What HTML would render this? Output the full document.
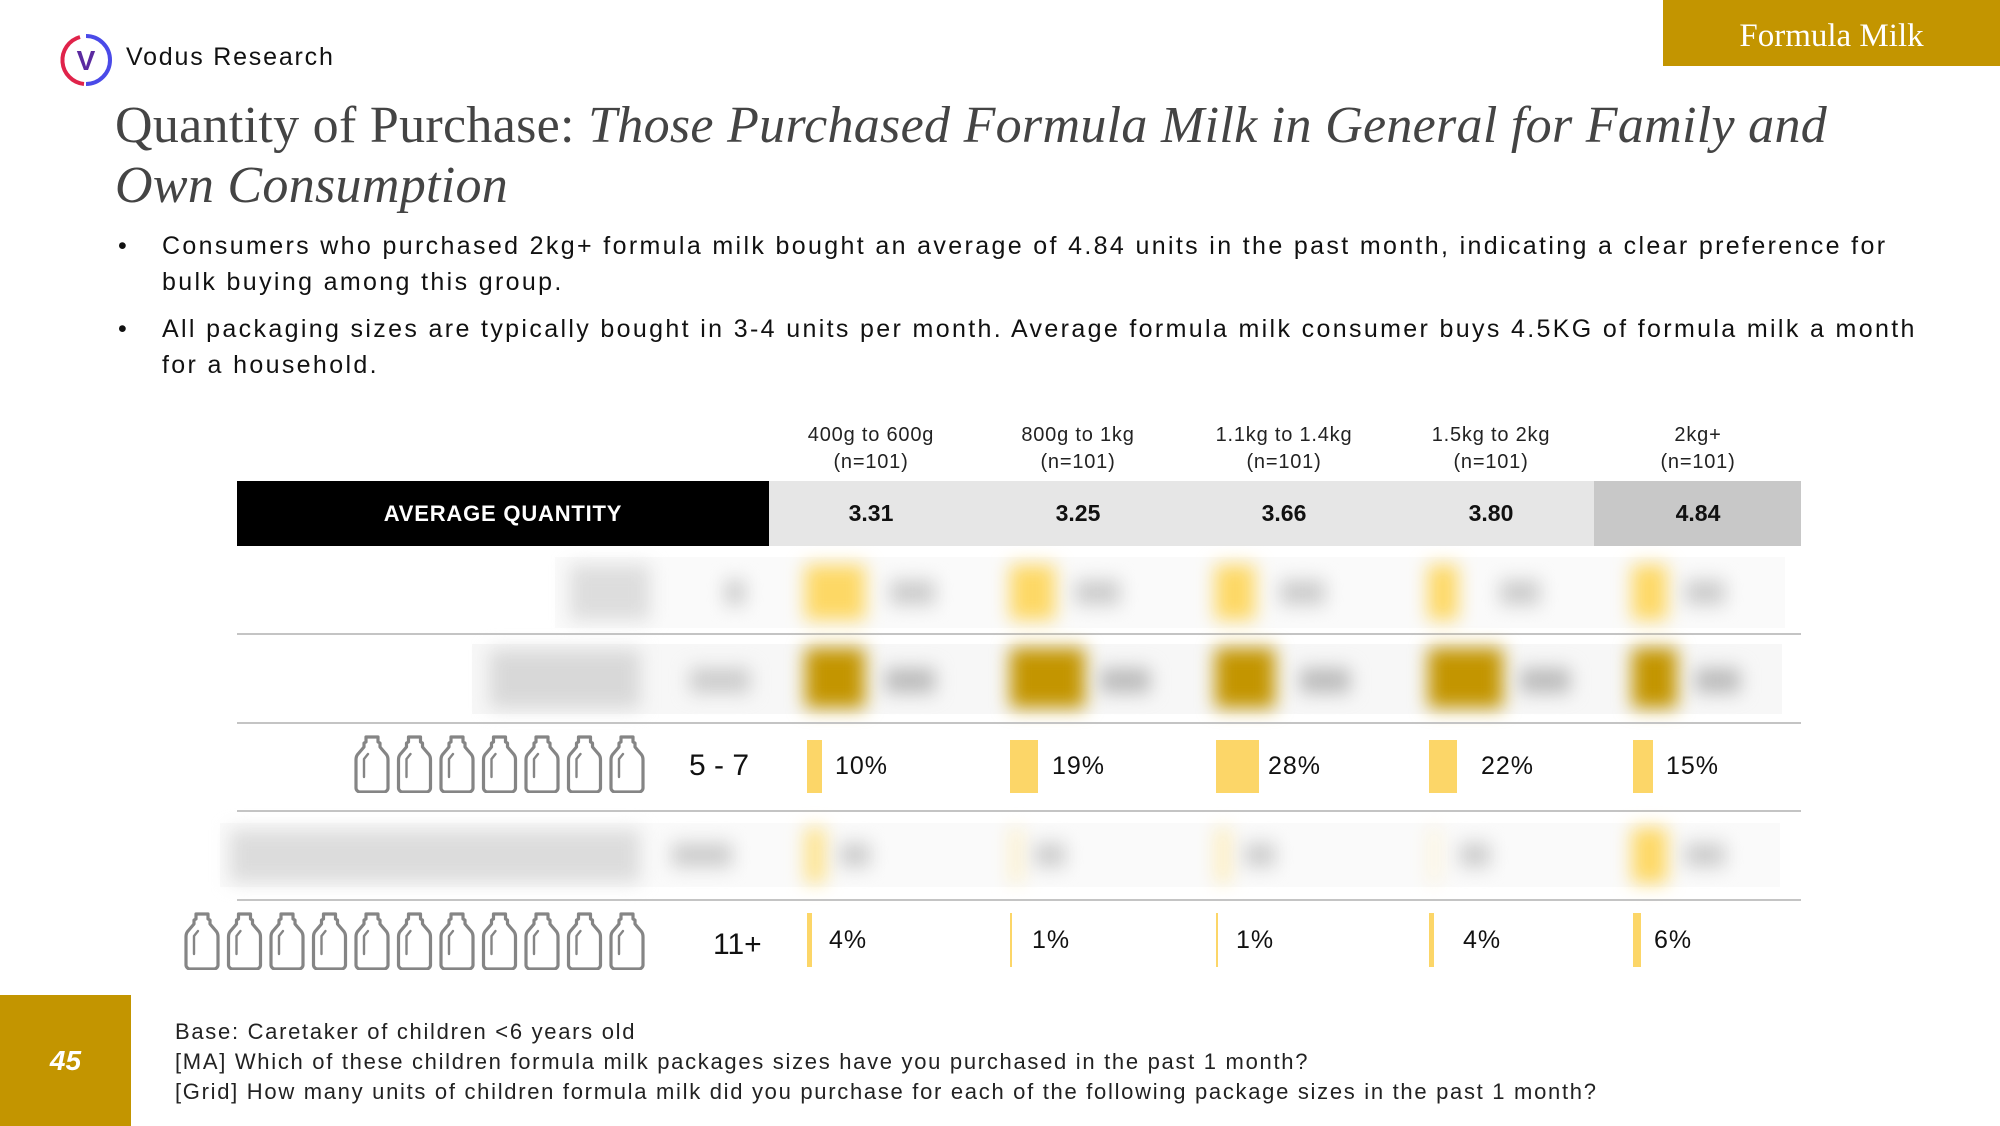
<!DOCTYPE html>
<html><head><meta charset="utf-8">
<style>
body{margin:0;width:2000px;height:1126px;position:relative;background:#fff;overflow:hidden;font-family:"Liberation Sans",sans-serif;color:#111}
.a{position:absolute}
.hdr{left:1663px;top:0;width:337px;height:66px;background:#c39500;color:#fff;font-family:"Liberation Serif",serif;font-size:33px;text-align:center;line-height:72px}
.title{left:115px;top:96px;font-family:"Liberation Serif",serif;font-size:52px;color:#444;line-height:60px;letter-spacing:0.3px}
.bul{left:162px;font-size:25px;line-height:36px;width:1810px;color:#111;letter-spacing:2.35px}
.bul:before{content:"•";position:absolute;left:-44px}
.ch{width:200px;text-align:center;font-size:20px;line-height:27px;color:#222;top:422px;letter-spacing:0.8px}
.sep{left:237px;width:1564px;height:2px;background:#c4c4c4}
.cell{top:481px;height:65px;line-height:65px;text-align:center;font-weight:bold;font-size:23px}
.bar{background:#fcd668}
.pct{font-size:25px;color:#111;letter-spacing:1px}
.blur{filter:blur(9px)}
.foot{left:175px;font-size:22px;color:#222;line-height:30px;letter-spacing:1.7px}
</style></head><body>
<svg width="0" height="0" style="position:absolute"><defs>
<symbol id="bt" viewBox="0 0 36 58"><path d="M12 2h12v5l2 1v4l6 7c2 2 2 4 2 6v28c0 2-2 4-4 4H6c-2 0-4-2-4-4V25c0-2 0-4 2-6l6-7V8l2-1z" fill="none" stroke="#858585" stroke-width="3.2" stroke-linejoin="round"/><path d="M10 42V24l4-5" fill="none" stroke="#858585" stroke-width="2.4" stroke-linecap="round"/></symbol>
</defs></svg>

<div class="a hdr">Formula Milk</div>
<svg class="a" style="left:58px;top:32px" width="56" height="56" viewBox="0 0 56 56">
<path d="M28 4a24 24 0 0 1 0 48" fill="none" stroke="#4a4ae8" stroke-width="4"/>
<path d="M22 5A24 24 0 0 0 26 52" fill="none" stroke="#e0234a" stroke-width="4"/>
<text x="28" y="38" text-anchor="middle" font-family="Liberation Sans" font-weight="bold" font-size="28" fill="#5b2aa0">V</text></svg>
<div class="a" style="left:126px;top:43px;font-size:25px;color:#111;letter-spacing:1.8px">Vodus Research</div>

<div class="a title">Quantity of Purchase: <i>Those Purchased Formula Milk in General for Family and<br>Own Consumption</i></div>
<div class="a bul" style="top:228px">Consumers who purchased 2kg+ formula milk bought an average of 4.84 units in the past month, indicating a clear preference for<br>bulk buying among this group.</div>
<div class="a bul" style="top:311px">All packaging sizes are typically bought in 3-4 units per month. Average formula milk consumer buys 4.5KG of formula milk a month<br>for a household.</div>

<div class="a ch" style="left:771px">400g to 600g<br>(n=101)</div>
<div class="a ch" style="left:978px">800g to 1kg<br>(n=101)</div>
<div class="a ch" style="left:1184px">1.1kg to 1.4kg<br>(n=101)</div>
<div class="a ch" style="left:1391px">1.5kg to 2kg<br>(n=101)</div>
<div class="a ch" style="left:1598px">2kg+<br>(n=101)</div>

<div class="a cell" style="left:237px;width:532px;background:#000;color:#fff;font-size:22px;letter-spacing:0.8px">AVERAGE QUANTITY</div>
<div class="a" style="left:769px;top:481px;width:825px;height:65px;background:#e6e6e6"></div>
<div class="a" style="left:1594px;top:481px;width:207px;height:65px;background:#c8c8c8"></div>
<div class="a cell" style="left:771px;width:200px">3.31</div>
<div class="a cell" style="left:978px;width:200px">3.25</div>
<div class="a cell" style="left:1184px;width:200px">3.66</div>
<div class="a cell" style="left:1391px;width:200px">3.80</div>
<div class="a cell" style="left:1598px;width:200px">4.84</div>

<div class="a" style="left:555px;top:557px;width:1230px;height:71px;background:#fafafa"></div>
<div class="a blur" style="left:570px;top:565px;width:80px;height:55px;background:#ddd"></div>
<div class="a blur" style="left:725px;top:580px;width:20px;height:25px;background:#ccc"></div>
<div class="a blur" style="left:805px;top:565px;width:60px;height:55px;background:#fdd865"></div>
<div class="a blur" style="left:1010px;top:565px;width:45px;height:55px;background:#fdd865"></div>
<div class="a blur" style="left:1215px;top:565px;width:40px;height:55px;background:#fdd865"></div>
<div class="a blur" style="left:1428px;top:565px;width:30px;height:55px;background:#fdd865"></div>
<div class="a blur" style="left:1632px;top:565px;width:35px;height:55px;background:#fdd865"></div>
<div class="a blur" style="left:890px;top:580px;width:45px;height:25px;background:#ccc"></div>
<div class="a blur" style="left:1075px;top:580px;width:45px;height:25px;background:#ccc"></div>
<div class="a blur" style="left:1280px;top:580px;width:45px;height:25px;background:#ccc"></div>
<div class="a blur" style="left:1500px;top:580px;width:40px;height:25px;background:#ccc"></div>
<div class="a blur" style="left:1685px;top:580px;width:40px;height:25px;background:#ccc"></div>
<div class="a sep" style="top:633px"></div>

<div class="a" style="left:472px;top:644px;width:1310px;height:70px;background:#f7f7f7"></div>
<div class="a blur" style="left:490px;top:650px;width:150px;height:58px;background:#d8d8d8"></div>
<div class="a blur" style="left:690px;top:668px;width:60px;height:25px;background:#ccc"></div>
<div class="a blur" style="left:805px;top:648px;width:60px;height:60px;background:#c39500"></div>
<div class="a blur" style="left:1010px;top:648px;width:75px;height:60px;background:#c39500"></div>
<div class="a blur" style="left:1215px;top:648px;width:60px;height:60px;background:#c39500"></div>
<div class="a blur" style="left:1428px;top:648px;width:75px;height:60px;background:#c39500"></div>
<div class="a blur" style="left:1632px;top:648px;width:45px;height:60px;background:#c39500"></div>
<div class="a blur" style="left:885px;top:668px;width:50px;height:25px;background:#bbb"></div>
<div class="a blur" style="left:1100px;top:668px;width:50px;height:25px;background:#bbb"></div>
<div class="a blur" style="left:1300px;top:668px;width:50px;height:25px;background:#bbb"></div>
<div class="a blur" style="left:1520px;top:668px;width:50px;height:25px;background:#bbb"></div>
<div class="a blur" style="left:1695px;top:668px;width:45px;height:25px;background:#bbb"></div>
<div class="a sep" style="top:722px"></div>

<svg class="a" style="left:352px;top:735px" width="295" height="60">
<use href="#bt" x="2" y="0" width="36" height="58"/><use href="#bt" x="44.5" y="0" width="36" height="58"/><use href="#bt" x="87" y="0" width="36" height="58"/><use href="#bt" x="129.5" y="0" width="36" height="58"/><use href="#bt" x="172" y="0" width="36" height="58"/><use href="#bt" x="214.5" y="0" width="36" height="58"/><use href="#bt" x="257" y="0" width="36" height="58"/></svg>
<div class="a" style="left:689px;top:749px;font-size:30px">5 - 7</div>
<div class="a bar" style="left:807px;top:740px;width:15px;height:53px"></div>
<div class="a bar" style="left:1010px;top:740px;width:28px;height:53px"></div>
<div class="a bar" style="left:1216px;top:740px;width:43px;height:53px"></div>
<div class="a bar" style="left:1429px;top:740px;width:28px;height:53px"></div>
<div class="a bar" style="left:1633px;top:740px;width:20px;height:53px"></div>
<div class="a pct" style="left:835px;top:752px">10%</div>
<div class="a pct" style="left:1052px;top:752px">19%</div>
<div class="a pct" style="left:1268px;top:752px">28%</div>
<div class="a pct" style="left:1481px;top:752px">22%</div>
<div class="a pct" style="left:1666px;top:752px">15%</div>
<div class="a sep" style="top:810px"></div>

<div class="a" style="left:220px;top:823px;width:1560px;height:64px;background:#fafafa"></div>
<div class="a blur" style="left:230px;top:830px;width:410px;height:52px;background:#dcdcdc"></div>
<div class="a blur" style="left:672px;top:843px;width:60px;height:24px;background:#ccc"></div>
<div class="a blur" style="left:805px;top:828px;width:20px;height:55px;background:#fde28a"></div>
<div class="a blur" style="left:1010px;top:828px;width:12px;height:55px;background:#fdf0c8"></div>
<div class="a blur" style="left:1216px;top:828px;width:14px;height:55px;background:#fdecb8"></div>
<div class="a blur" style="left:1429px;top:828px;width:10px;height:55px;background:#fdf3d8"></div>
<div class="a blur" style="left:1632px;top:828px;width:35px;height:55px;background:#fdd865"></div>
<div class="a blur" style="left:840px;top:843px;width:30px;height:24px;background:#ccc"></div>
<div class="a blur" style="left:1035px;top:843px;width:30px;height:24px;background:#ccc"></div>
<div class="a blur" style="left:1245px;top:843px;width:30px;height:24px;background:#ccc"></div>
<div class="a blur" style="left:1460px;top:843px;width:30px;height:24px;background:#ccc"></div>
<div class="a blur" style="left:1685px;top:843px;width:40px;height:24px;background:#ccc"></div>
<div class="a sep" style="top:899px"></div>

<svg class="a" style="left:182px;top:912px" width="465" height="60">
<use href="#bt" x="2" y="0" width="36" height="58"/><use href="#bt" x="44.5" y="0" width="36" height="58"/><use href="#bt" x="87" y="0" width="36" height="58"/><use href="#bt" x="129.5" y="0" width="36" height="58"/><use href="#bt" x="172" y="0" width="36" height="58"/><use href="#bt" x="214.5" y="0" width="36" height="58"/><use href="#bt" x="257" y="0" width="36" height="58"/><use href="#bt" x="299.5" y="0" width="36" height="58"/><use href="#bt" x="342" y="0" width="36" height="58"/><use href="#bt" x="384.5" y="0" width="36" height="58"/><use href="#bt" x="427" y="0" width="36" height="58"/></svg>
<div class="a" style="left:713px;top:928px;font-size:30px">11+</div>
<div class="a bar" style="left:807px;top:913px;width:5px;height:54px"></div>
<div class="a bar" style="left:1010px;top:913px;width:2px;height:54px"></div>
<div class="a bar" style="left:1216px;top:913px;width:2px;height:54px"></div>
<div class="a bar" style="left:1429px;top:913px;width:5px;height:54px"></div>
<div class="a bar" style="left:1633px;top:913px;width:8px;height:54px"></div>
<div class="a pct" style="left:829px;top:926px">4%</div>
<div class="a pct" style="left:1032px;top:926px">1%</div>
<div class="a pct" style="left:1236px;top:926px">1%</div>
<div class="a pct" style="left:1463px;top:926px">4%</div>
<div class="a pct" style="left:1654px;top:926px">6%</div>

<div class="a" style="left:0;top:995px;width:131px;height:131px;background:#c39500"></div>
<div class="a" style="left:0;top:1045px;width:131px;text-align:center;color:#fff;font-size:28px;font-style:italic;font-weight:bold">45</div>
<div class="a foot" style="top:1017px">Base: Caretaker of children &lt;6 years old<br>[MA] Which of these children formula milk packages sizes have you purchased in the past 1 month?<br>[Grid] How many units of children formula milk did you purchase for each of the following package sizes in the past 1 month?</div>
</body></html>
